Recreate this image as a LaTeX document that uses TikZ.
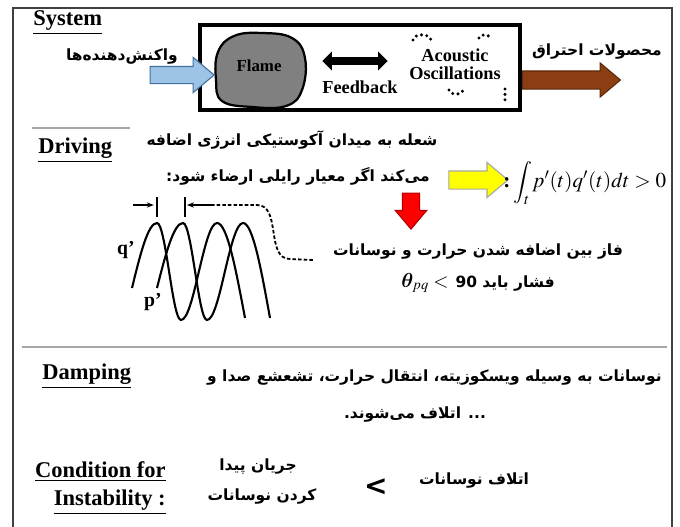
\documentclass[tikz,border=0pt]{standalone}
\usepackage{amsmath,bm}
\usepackage{mathptmx}
\usepackage{fontspec}
\setmainfont{Liberation Serif}
\newfontfamily\fa[Script=Arabic]{DejaVu Sans}
\TeXXeTstate=1
\usepackage{xcolor}
\usepackage{tikz}
\usetikzlibrary{shapes.arrows, arrows.meta, positioning, calc}

\definecolor{framegray}{HTML}{404040}
\definecolor{sepgray}{HTML}{A6A6A6}
\definecolor{flamegray}{HTML}{808080}
\definecolor{inblue}{HTML}{9DC3E6}
\definecolor{inblueline}{HTML}{41719C}
\definecolor{outbrown}{HTML}{8A3E12}
\definecolor{outbrownline}{HTML}{5B2A08}
\definecolor{ryellow}{HTML}{FFFF00}
\definecolor{rred}{HTML}{FF0000}

\newcommand{\rl}[1]{\beginR #1\endR}

\begin{document}
\begin{tikzpicture}[
    x=0.025cm, y=-0.025cm,
    title/.style    = {font=\fontsize{16}{18}\selectfont\bfseries, inner sep=0pt},
    latin/.style    = {font=\fontsize{13}{15}\selectfont\bfseries, inner sep=0pt, align=center},
    fatxt/.style    = {font=\fontsize{11}{13}\selectfont\fa\bfseries, inner sep=0pt},
    fareg/.style    = {font=\fontsize{11}{14}\selectfont\fa\bfseries, inner sep=0pt},
    blockarr/.style = {single arrow, draw, line width=0.8pt,
                       single arrow tip angle=80},
    sep/.style      = {line width=1.4pt, sepgray},
    dotty/.style    = {line width=2.4pt, line cap=round, dash pattern=on 0pt off 3.8pt},
    wave/.style     = {line width=1.5pt},
    marker/.style   = {-{Stealth[length=5pt]}, line width=1.2pt},
]
\useasboundingbox (0,0) rectangle (680,527);

%% -- outer frame and separators ---------------------------------------------
\draw[framegray, line width=1.4pt] (13,527) -- (13,8) -- (672,8) -- (672,527);
\draw[sep] (32,128) -- (130,128);
\draw[sep] (22,347) -- (667,347);

%% -- System row --------------------------------------------------------------
\node[title, anchor=west] (sys) at (33,23) {\underline{System}};
\node[draw, line width=2.2pt, minimum width=8cm, minimum height=2.125cm]
                                    (chamber) at (360,67.5) {};
\draw[line width=1.6pt, fill=flamegray] plot[smooth cycle, tension=0.7] coordinates
    {(218,52) (234,36) (262,33) (292,38) (305,58) (302,90) (286,106)
     (252,107) (222,101) (216,80)};
\node[latin, font=\fontsize{12}{14}\selectfont\bfseries] (flame) at (259,66) {Flame};

\node[blockarr, fill=inblue, draw=inblueline, inner sep=0.2cm, minimum height=1.6cm,
      single arrow head extend=0.225cm] (inarr) at (177,75) {};
\node[fatxt, anchor=east] (reac) at (178,57) {\rl{واکنش‌دهنده‌ها}};

\node[double arrow, fill=black, inner sep=0.0875cm, minimum height=1.625cm,
      double arrow head extend=0.14cm] (fbarr) at (355,61) {};
\node[latin] (fb) at (360,87) {Feedback};

\node[latin] (acou) at (455,64) {Acoustic\\[-2pt]Oscillations};
\draw[dotty] (413,40) to[out=80, in=100] (431,40);
\draw[dotty] (479,38) to[out=80, in=100] (490,38);
\draw[dotty] (449,90) to[out=-80, in=-100] (463,90);
\draw[dotty] (505,89) -- (505,101);

\node[blockarr, fill=outbrown, draw=outbrownline, inner sep=0.2125cm, minimum height=2.45cm,
      single arrow head extend=0.2cm] (outarr) at (566,80) {};
\node[fatxt, anchor=east] (prod) at (662,52) {\rl{محصولات احتراق}};

%% -- Driving -----------------------------------------------------------------
\node[title, anchor=west] (drv) at (38,150) {\underline{Driving}};
\node[fatxt] (drvA) at (292,140) {\rl{شعله به میدان آکوستیکی انرژی اضافه}};
\node[fatxt] (drvB) at (298,176) {\rl{می‌کند اگر معیار رایلی ارضاء شود:}};

\node[blockarr, fill=ryellow, draw=sepgray, inner sep=0.2125cm, minimum height=1.475cm,
      single arrow head extend=0.2125cm] (yarr) at (473,180) {};
\node[anchor=west, inner sep=0pt, font=\fontsize{15}{17}\selectfont] (rayl) at (503,183)
    {\textbf{:}\,$\displaystyle\int_t p'(t)q'(t)dt > 0$};

\node[blockarr, fill=rred, draw=rred!70!black, inner sep=0.2cm, minimum height=0.9cm,
      single arrow head extend=0.175cm, rotate=-90] (rarr) at (411,206) {};
\node[fatxt] (phA) at (478,252) {\rl{فاز بین اضافه شدن حرارت و نوسانات}};
\node[fatxt] (phB) at (478,283)
    {\fontsize{14}{16}\selectfont$\bm{\theta}_{pq} <$ \fontsize{11}{13}\selectfont 90 \rl{فشار باید}};

%% -- q' and p' waves ---------------------------------------------------------
\draw[wave] (132,288) sin (157,223) cos (169,271) sin (181,320)
                      cos (199,271) sin (217,223) cos (245,318);
\draw[wave] (157,288) sin (183,223) cos (195,271) sin (207,320)
                      cos (225,271) sin (243,223) cos (270,318);
\node[title, font=\fontsize{14}{16}\selectfont\bfseries] (qlab) at (126,250) {q’};
\node[title, font=\fontsize{14}{16}\selectfont\bfseries] (plab) at (153,302) {p’};

\coordinate (tkA) at (157,205);
\coordinate (tkB) at (185,205);
\coordinate (mkA) at (133,205);
\coordinate (mkB) at (211,205);
\coordinate (dsA) at (257,205);
\coordinate (dsB) at (290,259);
\coordinate (dsC) at (313,260);
\draw[line width=1.2pt] (157,197) -- (157,217);
\draw[line width=1.2pt] (185,197) -- (185,217);
\draw[marker] (mkA) -- ([xshift=-0.08cm]tkA);
\draw[marker] (mkB) -- ([xshift=0.05cm]tkB);
\draw[line width=1.3pt, dash pattern=on 2.5pt off 1.5pt] (mkB) -- (dsA)
    to[out=0, in=180] (dsB) -- (dsC);

%% -- Damping -----------------------------------------------------------------
\node[title, anchor=west] (damp) at (42,376) {\underline{Damping}};
\node[fareg, anchor=east] (dmpA) at (662,378)
    {\rl{نوسانات به وسیله ویسکوزیته، انتقال حرارت، تشعشع صدا و}};
\node[fareg] (dmpB) at (415,415) {\rl{... اتلاف می‌شوند.}};

%% -- Condition for instability ------------------------------------------------
\node[title, anchor=north east, align=right] (cond) at (166,461)
    {\underline{Condition for}\\[2pt]\underline{Instability :}};
\node[fareg] (gainA) at (258,467) {\rl{جریان پیدا}};
\node[fareg] (gainB) at (262,497) {\rl{کردن نوسانات}};
\node[font=\fontsize{20}{22}\selectfont\fa\bfseries, inner sep=0pt] (gt) at (376,487) {>};
\node[fareg] (loss) at (474,481) {\rl{اتلاف نوسانات}};

\end{tikzpicture}
\end{document}
